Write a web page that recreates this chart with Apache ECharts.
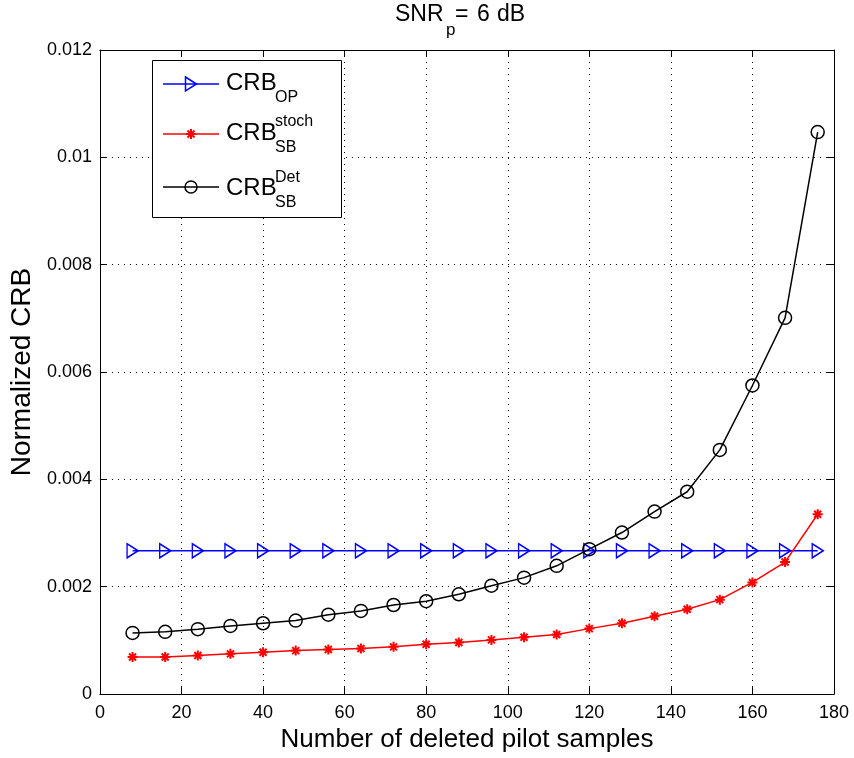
<!DOCTYPE html>
<html>
<head>
<meta charset="utf-8">
<script src="https://cdn.jsdelivr.net/npm/echarts@6/dist/echarts.min.js"></script>
<style>
  html, body { margin: 0; padding: 0; background: #fff; }
  #chart { width: 854px; height: 758px; }
</style>
</head>
<body>
<div id="chart"></div>
<script>
// Number of deleted pilot samples
const samples = [8, 16, 24, 32, 40, 48, 56, 64, 72, 80, 88, 96, 104, 112, 120, 128, 136, 144, 152, 160, 168, 176];

// CRB of the pilot-only estimator (flat)
const crbOP = [0.00267, 0.00267, 0.00267, 0.00267, 0.00267, 0.00267, 0.00267, 0.00267, 0.00267, 0.00267, 0.00267,
               0.00267, 0.00267, 0.00267, 0.00267, 0.00267, 0.00267, 0.00267, 0.00267, 0.00267, 0.00267, 0.00267];

// Semi-blind stochastic CRB
const crbSBStoch = [0.00069, 0.00069, 0.00072, 0.00075, 0.00078, 0.00081, 0.00083, 0.00085, 0.00088, 0.00093, 0.00096,
                    0.00101, 0.00106, 0.00111, 0.00122, 0.00132, 0.00145, 0.00158, 0.00176, 0.00208, 0.00246, 0.00335];

// Semi-blind deterministic CRB
const crbSBDet = [0.00114, 0.00116, 0.00121, 0.00127, 0.00132, 0.00137, 0.00148, 0.00155, 0.00166, 0.00173, 0.00186,
                  0.00202, 0.00217, 0.00239, 0.00270, 0.00301, 0.00340, 0.00377, 0.00455, 0.00575, 0.00701, 0.01047];

const xTicks = { min: 0, max: 180, interval: 20 };
const yTicks = { min: 0, max: 0.012, interval: 0.002 };

const FONT = '"Liberation Sans", Arial, Helvetica, sans-serif';
const BLUE = '#0000ff';
const RED = '#ff0000';
const BLACK = '#000000';

const triRight = 'path://M0,0L10,6L0,12Z';
const asterisk = 'path://M0,5L10,5M5,0L5,10M1.5,1.5L8.5,8.5M8.5,1.5L1.5,8.5';

function pairs(ys) { return samples.map((x, i) => [x, ys[i]]); }

const chart = echarts.init(document.getElementById('chart'), null, { renderer: 'canvas' });

const gridLine = { show: true, lineStyle: { color: '#000', width: 1, type: [1, 5] } };

// Legend drawn as graphic elements (needs stacked super/subscripts)
const legendX0 = 163, legendX1 = 219, legendMX = 191, textX = 226, scriptX = 275;
const rows = [84, 134, 187];
function txt(x, y, s, size) {
  return { type: 'text', x: x, y: y, z: 100,
    style: { text: s, font: size + 'px ' + FONT, fill: '#000', align: 'left', verticalAlign: 'middle' } };
}
function seg(x1, y1, x2, y2, color, w) {
  return { type: 'line', z: 101, shape: { x1: x1, y1: y1, x2: x2, y2: y2 },
    style: { stroke: color, lineWidth: w } };
}

const graphics = [
  // title SNR_p = 6 dB
  txt(395, 15, 'SNR', 23),
  txt(446, 30, 'p', 17),
  txt(455, 15, '=', 23),
  txt(477, 15, '6', 23),
  txt(497, 15, 'dB', 23),
  // legend box
  { type: 'rect', z: 99, shape: { x: 152.5, y: 60.5, width: 189, height: 157 },
    style: { fill: '#fff', stroke: '#000', lineWidth: 1 } },
  seg(legendX0, rows[0], legendX1, rows[0], BLUE, 1.5),
  { type: 'polygon', z: 101, shape: { points: [[legendMX - 5.5, rows[0] - 7], [legendMX + 5.5, rows[0]], [legendMX - 5.5, rows[0] + 7]] },
    style: { fill: 'transparent', stroke: BLUE, lineWidth: 1.5 } },
  txt(textX, rows[0] - 1, 'CRB', 24),
  txt(scriptX, rows[0] + 14, 'OP', 16),
  seg(legendX0, rows[1], legendX1, rows[1], RED, 1.5),
  seg(legendMX - 5, rows[1], legendMX + 5, rows[1], RED, 2),
  seg(legendMX, rows[1] - 5, legendMX, rows[1] + 5, RED, 2),
  seg(legendMX - 3.5, rows[1] - 3.5, legendMX + 3.5, rows[1] + 3.5, RED, 2),
  seg(legendMX + 3.5, rows[1] - 3.5, legendMX - 3.5, rows[1] + 3.5, RED, 2),
  txt(textX, rows[1] - 1, 'CRB', 24),
  txt(scriptX, rows[1] - 12, 'stoch', 16),
  txt(scriptX, rows[1] + 14, 'SB', 16),
  seg(legendX0, rows[2], legendX1, rows[2], BLACK, 1.5),
  { type: 'circle', z: 101, shape: { cx: legendMX, cy: rows[2], r: 6 },
    style: { fill: 'transparent', stroke: BLACK, lineWidth: 1.5 } },
  txt(textX, rows[2] + 1, 'CRB', 24),
  txt(scriptX, rows[2] - 9, 'Det', 16),
  txt(scriptX, rows[2] + 16, 'SB', 16)
];

const option = {
  animation: false,
  backgroundColor: '#fff',
  grid: { left: 98, right: 20, top: 50, bottom: 61, containLabel: false },
  graphic: graphics,
  xAxis: [
    {
      type: 'value', position: 'bottom',
      min: xTicks.min, max: xTicks.max, interval: xTicks.interval,
      name: 'Number of deleted pilot samples', nameLocation: 'middle', nameGap: 29,
      nameTextStyle: { fontFamily: FONT, fontSize: 26, color: '#000' },
      axisLine: { show: true, onZero: false, lineStyle: { color: '#000', width: 1 } },
      axisTick: { show: true, inside: true, length: 7, lineStyle: { color: '#000' } },
      axisLabel: { fontFamily: FONT, fontSize: 18, color: '#000', margin: 10 },
      splitLine: gridLine
    },
    {
      type: 'value', position: 'top',
      min: xTicks.min, max: xTicks.max, interval: xTicks.interval,
      axisLine: { show: true, onZero: false, lineStyle: { color: '#000', width: 1 } },
      axisTick: { show: true, inside: true, length: 7, lineStyle: { color: '#000' } },
      axisLabel: { show: false },
      splitLine: { show: false }
    }
  ],
  yAxis: [
    {
      type: 'value', position: 'left',
      min: yTicks.min, max: yTicks.max, interval: yTicks.interval,
      name: 'Normalized CRB', nameLocation: 'middle', nameGap: 61,
      nameTextStyle: { fontFamily: FONT, fontSize: 28, color: '#000' },
      axisLine: { show: true, onZero: false, lineStyle: { color: '#000', width: 1 } },
      axisTick: { show: true, inside: true, length: 7, lineStyle: { color: '#000' } },
      axisLabel: { fontFamily: FONT, fontSize: 18, color: '#000', margin: 8,
        formatter: v => String(+v.toFixed(3)) },
      splitLine: gridLine
    },
    {
      type: 'value', position: 'right',
      min: yTicks.min, max: yTicks.max, interval: yTicks.interval,
      axisLine: { show: true, onZero: false, lineStyle: { color: '#000', width: 1 } },
      axisTick: { show: true, inside: true, length: 7, lineStyle: { color: '#000' } },
      axisLabel: { show: false },
      splitLine: { show: false }
    }
  ],
  series: [
    {
      name: 'CRB_OP', type: 'line', data: pairs(crbOP),
      symbol: triRight, symbolSize: [11, 14], showAllSymbol: true,
      lineStyle: { color: BLUE, width: 1.5 },
      itemStyle: { color: 'rgba(0,0,0,0)', borderColor: BLUE, borderWidth: 1.5 }
    },
    {
      name: 'CRB_SB_stoch', type: 'line', data: pairs(crbSBStoch),
      symbol: asterisk, symbolSize: 10, showAllSymbol: true,
      lineStyle: { color: RED, width: 1.5 },
      itemStyle: { color: 'rgba(0,0,0,0)', borderColor: RED, borderWidth: 2 }
    },
    {
      name: 'CRB_SB_Det', type: 'line', data: pairs(crbSBDet),
      symbol: 'circle', symbolSize: 13, showAllSymbol: true,
      lineStyle: { color: BLACK, width: 1.5 },
      itemStyle: { color: 'rgba(0,0,0,0)', borderColor: BLACK, borderWidth: 1.5 }
    }
  ]
};

chart.setOption(option);
</script>
</body>
</html>
